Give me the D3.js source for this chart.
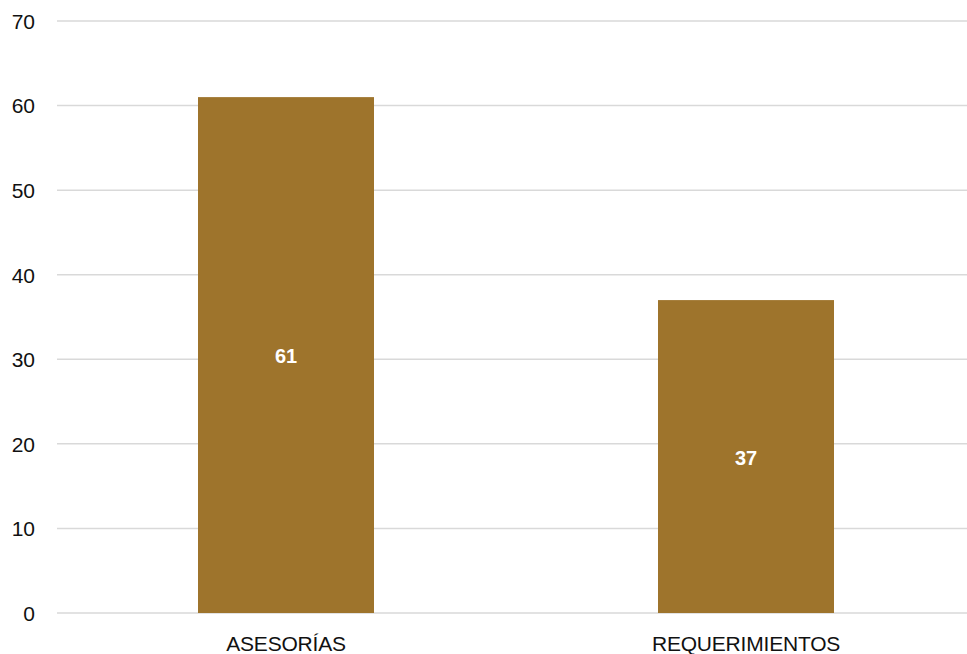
<!DOCTYPE html>
<html><head><meta charset="utf-8">
<script src="https://cdn.jsdelivr.net/npm/d3@7"></script>
<style>body{margin:0;background:#fff}svg{display:block}text{font-family:"Liberation Sans",Arial,Helvetica,sans-serif}</style>
</head><body>
<svg id="c" width="967" height="654"></svg>
<script>
const categories = ["ASESORÍAS", "REQUERIMIENTOS"];
const values = [61, 37];
const yTicks = [0, 10, 20, 30, 40, 50, 60, 70];

(function () {
const svg = d3.select("#c");
const mLeft = 57, mRight = 977, mTop = 21, mBottom = 613;
const x = d3.scaleBand().domain(categories).range([mLeft - 1, mRight - 1]).paddingInner(0.6174).paddingOuter(0.3087);
const y = d3.scaleLinear().domain([0, 70]).range([mBottom, mTop]);

svg.append("g").selectAll("line").data(yTicks).join("line")
  .attr("x1", mLeft).attr("x2", 967)
  .attr("y1", d => y(d)).attr("y2", d => y(d))
  .attr("stroke", "#d9d9d9").attr("stroke-width", 1.5);

const yAxis = d3.axisLeft(y).tickValues(yTicks).tickSize(0).tickPadding(0);
const gy = svg.append("g").attr("transform", "translate(35,0)").call(yAxis);
gy.select(".domain").remove();
gy.selectAll("text").attr("font-size", 21).attr("fill", "#111").attr("dy", "0.35em").attr("font-family", '"Liberation Sans",Arial,sans-serif');

svg.append("g").selectAll("rect").data(values).join("rect")
  .attr("x", (d, i) => x(categories[i]))
  .attr("width", x.bandwidth())
  .attr("y", d => y(d))
  .attr("height", d => y(0) - y(d))
  .attr("fill", "#9e742c");

svg.append("g").selectAll("text").data(values).join("text")
  .attr("x", (d, i) => x(categories[i]) + x.bandwidth() / 2)
  .attr("y", d => (y(d) + y(0)) / 2 + 1)
  .attr("dy", "0.35em")
  .attr("text-anchor", "middle")
  .attr("font-size", 20).attr("font-weight", "bold").attr("fill", "#fff")
  .text(d => d);

const xAxis = d3.axisBottom(x).tickSize(0).tickPadding(0);
const gx = svg.append("g").attr("transform", "translate(0,651)").call(xAxis);
gx.select(".domain").remove();
gx.selectAll("text").attr("font-size", 21).attr("fill", "#111").attr("dy", "0").attr("letter-spacing", "-0.2px").attr("font-family", '"Liberation Sans",Arial,sans-serif');
})();
</script>
</body></html>
